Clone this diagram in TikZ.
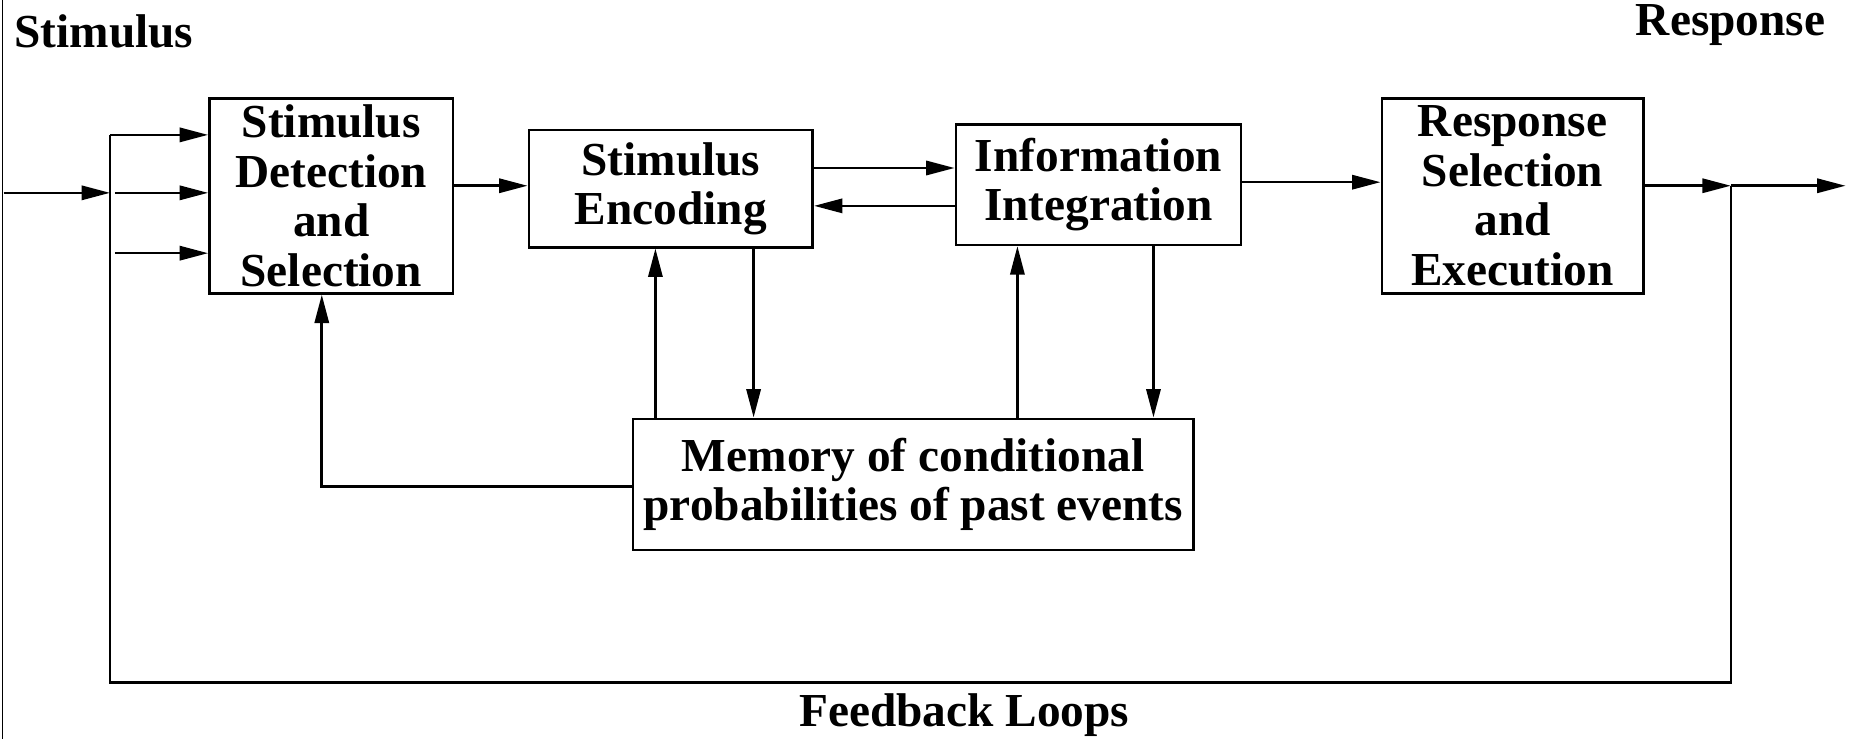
\documentclass[tikz,border=0pt]{standalone}
\usepackage{fontspec}
\setmainfont{Liberation Serif}
\usetikzlibrary{positioning, calc, arrows.meta}

\begin{document}
\begin{tikzpicture}[x=1pt, y=-1pt,
    blok/.style={draw, line width=2.2pt, inner sep=0pt, align=center,
                 font=\bfseries\fontsize{40}{42}\selectfont},
    lbl/.style={inner sep=0pt, font=\bfseries\fontsize{40}{42}\selectfont},
    wire/.style={line width=2.2pt},
    arr/.style={wire, -{Triangle[length=24pt,width=12pt]}}]
    \useasboundingbox (0,0) rectangle (1568,625);

    % cac khoi chinh
    \node[blok, minimum width=206, minimum height=165] (det) at (280,165.5)
        {Stimulus\\Detection\\and\\Selection};
    \node[blok, minimum width=240, minimum height=99] (enc) at (567,159.5)
        {Stimulus\\Encoding};
    \node[blok, minimum width=241, minimum height=102] (integ) at (928.5,156)
        {Information\\Integration};
    \node[blok, minimum width=221, minimum height=165] (resp) at (1278.5,165.5)
        {Response\\Selection\\and\\Execution};
    \node[blok, minimum width=474, minimum height=111] (mem) at (772,409.5)
        {Memory of conditional\\probabilities of past events};

    % nhan
    \node[lbl, anchor=base west] (stim) at (12,40) {Stimulus};
    \node[lbl, anchor=base east] (resplbl) at (1543,30) {Response};
    \node[lbl, anchor=base] (fb) at (815,614) {Feedback Loops};

    % khung trai
    \draw[line width=0.8pt] (2,0) -- (2,625);

    % cac diem noi
    \coordinate (inL) at (3,163);
    \coordinate (busT) at (93,114);
    \coordinate (busB) at (93,577);
    \coordinate (busR) at (1463,577);
    \coordinate (outJ) at (1463,157);
    \coordinate (outR) at (1560,157);
    \coordinate (in2) at (97,163);
    \coordinate (in3) at (97,214);
    \coordinate (yA) at (0,142);
    \coordinate (yB) at (0,174);
    \coordinate (yC) at (0,154);
    \coordinate (xA) at (554,0);
    \coordinate (xB) at (637,0);
    \coordinate (xC) at (860,0);
    \coordinate (xD) at (975,0);
    \coordinate (xE) at (272,411);

    % dau vao va vong phan hoi
    \draw[arr] (inL) -- (inL -| busT);
    \draw[wire] (busT) -- (busB) -- (busR) -- (outJ);
    \draw[arr] (busT) -- (busT -| det.west);
    \draw[arr] (in2) -- (in2 -| det.west);
    \draw[arr] (in3) -- (in3 -| det.west);

    % luong ngang
    \draw[arr] (det.east |- outJ) -- (enc.west |- outJ);
    \draw[arr] (enc.east |- yA) -- (integ.west |- yA);
    \draw[arr] (integ.west |- yB) -- (enc.east |- yB);
    \draw[arr] (integ.east |- yC) -- (resp.west |- yC);
    \draw[arr] (resp.east |- outJ) -- (outJ);
    \draw[arr] (outJ) -- (outR);

    % bo nho
    \draw[arr] (mem.north -| xA) -- (enc.south -| xA);
    \draw[arr] (enc.south -| xB) -- (mem.north -| xB);
    \draw[arr] (mem.north -| xC) -- (integ.south -| xC);
    \draw[arr] (integ.south -| xD) -- (mem.north -| xD);
    \draw[arr] (mem.west |- xE) -- (xE) -- (det.south -| xE);
\end{tikzpicture}
\end{document}
